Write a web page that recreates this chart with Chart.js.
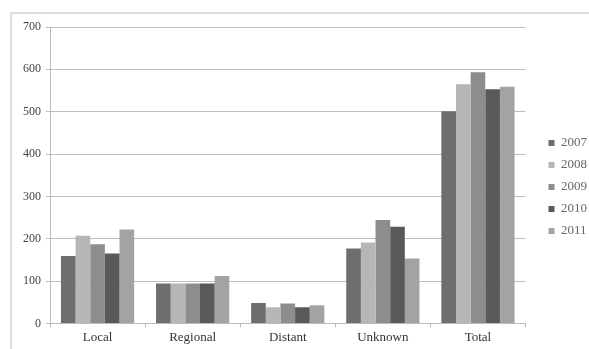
<!DOCTYPE html>
<html>
<head>
<meta charset="utf-8">
<script src="https://cdn.jsdelivr.net/npm/chart.js@4"></script>
<style>
  html, body { margin: 0; padding: 0; background: #fff; }
  #wrap { position: relative; width: 589px; height: 349px; }
  #frame { position: absolute; left: 10px; top: 12px; right: 0; bottom: 0;
           border-top: 2px solid #dcdcdc; border-left: 2px solid #dcdcdc; }
  #chart { position: absolute; left: 0; top: 0; }
</style>
</head>
<body>
<div id="wrap">
  <div id="frame"></div>
  <canvas id="chart" width="589" height="349"></canvas>
</div>
<script>
// categories + years
const categories = ["Local", "Regional", "Distant", "Unknown", "Total"];
const years = ["2007", "2008", "2009", "2010", "2011"];
const yTicks = [0, 100, 200, 300, 400, 500, 600, 700];

// values, one array per year
const v2007 = [159, 94, 48, 177, 501];
const v2008 = [207, 94, 38, 191, 565];
const v2009 = [187, 94, 47, 244, 593];
const v2010 = [165, 94, 38, 228, 553];
const v2011 = [222, 112, 43, 153, 559];

const colors = ["#6e6e6e", "#b6b6b6", "#8d8d8d", "#595959", "#a3a3a3"];
const series = [v2007, v2008, v2009, v2010, v2011];

const serif = "'Liberation Serif', 'DejaVu Serif', serif";

const ctx = document.getElementById("chart").getContext("2d");
new Chart(ctx, {
  type: "bar",
  data: {
    labels: categories,
    datasets: years.map((y, i) => ({
      label: y,
      data: series[i],
      backgroundColor: colors[i],
      borderWidth: 0,
      barPercentage: 1,
      categoryPercentage: 0.77
    }))
  },
  options: {
    responsive: false,
    animation: false,
    layout: { padding: { top: 27, left: 18, right: -8, bottom: 2 } },
    plugins: {
      tooltip: { enabled: false },
      legend: {
        position: "right",
        labels: {
          boxWidth: 6,
          boxHeight: 6,
          padding: 9,
          color: "#666",
          font: { family: serif, size: 13 }
        }
      }
    },
    scales: {
      x: {
        grid: { drawOnChartArea: false, drawTicks: true, tickLength: 4, color: "#bbb" },
        border: { color: "#bbb" },
        ticks: { color: "#333", font: { family: serif, size: 13 }, padding: 2 }
      },
      y: {
        min: 0,
        max: 700,
        afterBuildTicks: axis => { axis.ticks = yTicks.map(v => ({ value: v })); },
        afterFit: axis => { axis.width = 32; },
        grid: { color: "#bdbdbd", tickLength: 4 },
        border: { color: "#bbb" },
        ticks: { color: "#444", font: { family: serif, size: 12 }, padding: 5 }
      },
      // empty spacer between plot and legend
      gap: {
        position: "right",
        afterFit: axis => { axis.width = 14; },
        grid: { display: false },
        border: { display: false },
        ticks: { display: false }
      }
    }
  }
});
</script>
</body>
</html>
